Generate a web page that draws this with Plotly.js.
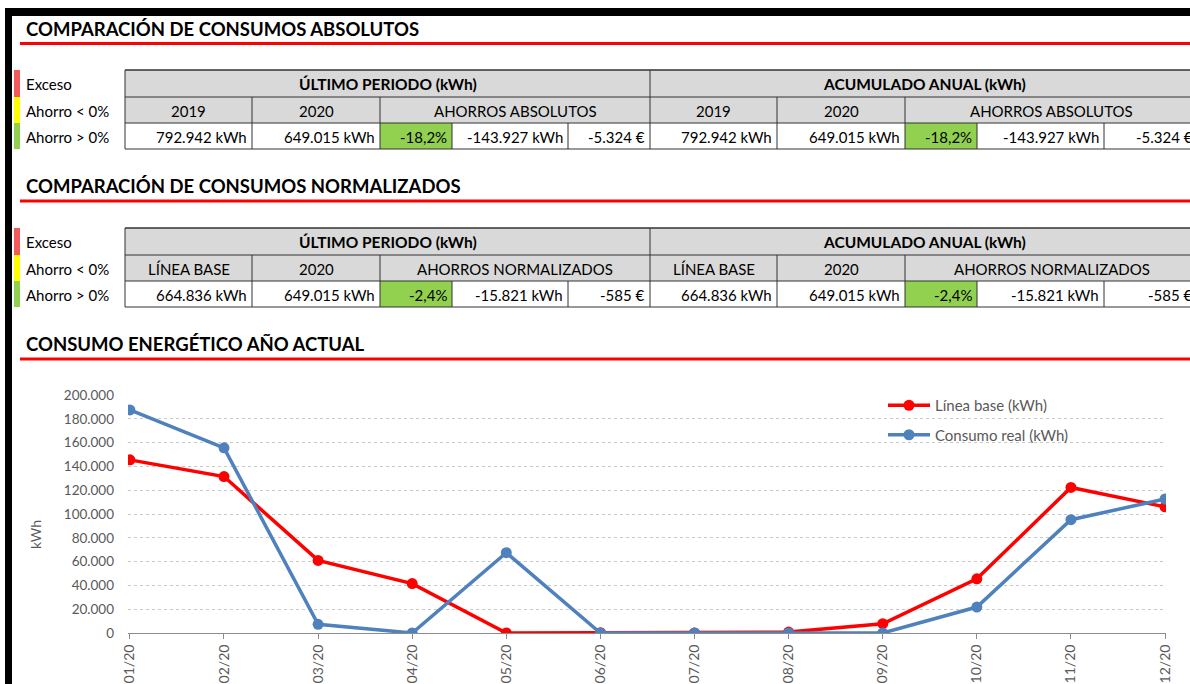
<!DOCTYPE html>
<html><head><meta charset="utf-8">
<script src="https://cdn.plot.ly/plotly-3.0.1.min.js"></script>
<style>html,body{margin:0;padding:0;background:#fff;overflow:hidden}#c{width:1190px;height:684px}</style>
</head><body><div id="c"></div>
<script>
// ---- data ----
const months = ['01/20','02/20','03/20','04/20','05/20','06/20','07/20','08/20','09/20','10/20','11/20','12/20'];
const lineaBase = [145500, 131500, 61000, 41500, 0, 300, 0, 800, 7800, 45500, 122300, 106000];
const consumoReal = [187500, 155600, 7300, 0, 67500, 0, 0, 0, 0, 21800, 95200, 112600];
const seriesNames = ['Línea base (kWh)', 'Consumo real (kWh)'];
const sectionTitles = ['COMPARACIÓN DE CONSUMOS ABSOLUTOS', 'COMPARACIÓN DE CONSUMOS NORMALIZADOS', 'CONSUMO ENERGÉTICO AÑO ACTUAL'];
const legendLabels = ['Exceso', 'Ahorro < 0%', 'Ahorro > 0%'];
const groupHeaders = ['ÚLTIMO PERIODO (kWh)', 'ACUMULADO ANUAL (kWh)'];
const absSubHeader = ['2019', '2020', 'AHORROS ABSOLUTOS'];
const absValues = ['792.942 kWh', '649.015 kWh', '-18,2%', '-143.927 kWh', '-5.324 €'];
const normSubHeader = ['LÍNEA BASE', '2020', 'AHORROS NORMALIZADOS'];
const normValues = ['664.836 kWh', '649.015 kWh', '-2,4%', '-15.821 kWh', '-585 €'];
const yAxisTitle = 'kWh';

// ---- layout helpers ----
const W = 1190, H = 684;
const X = x => x / W, Y = y => 1 - y / H;
const FONT = 'Lato, "Open Sans", sans-serif';
const shapes = [], annotations = [];
function rect(x0, y0, x1, y1, fill, lineColor, lw) {
  shapes.push({type:'rect', xref:'paper', yref:'paper', x0:X(x0), x1:X(x1), y0:Y(y1), y1:Y(y0),
    fillcolor: fill, line:{color: lineColor || fill, width: lineColor ? (lw||1) : 0}, layer:'below'});
}
function line(x0, y0, x1, y1, color, w) {
  shapes.push({type:'line', xref:'paper', yref:'paper', x0:X(x0), x1:X(x1), y0:Y(y0), y1:Y(y1),
    line:{color: color, width: w||1}, layer:'above'});
}
function text(t, x, y, anchor, size, bold, color) {
  annotations.push({xref:'paper', yref:'paper', x:X(x), y:Y(y), xanchor:anchor, yanchor:'middle',
    text: bold ? '<b>'+t+'</b>' : t, showarrow:false,
    font:{family:FONT, size:size, color: color||'#000'}});
}

// frame
rect(5, 8, 1190, 16, '#000');
rect(5, 8, 12, 684, '#000');

// section titles with red rules
const titleY = [29, 186, 344], ruleY = [43.5, 201, 359];
sectionTitles.forEach((t, i) => {
  text(t, 24, titleY[i], 'left', 18.5, true, '#000');
  rect(20, ruleY[i]-1.5, 1190, ruleY[i]+1.5, '#ff0000');
});

// tables
const halves = [[125,252,380,452,568,650],[650,777,905,977,1104,1198]];
const stripColors = ['#f25a5c', '#ffff00', '#92d050'];
function table(T, sub, vals) {
  const r = [T, T+27, T+53, T+79];
  legendLabels.forEach((l, i) => {
    rect(14, r[i], 20, r[i+1], stripColors[i]);
    text(l, 24, (r[i]+r[i+1])/2 + 1, 'left', 15, false, '#000');
  });
  rect(125, r[0], 1198, r[2], '#d9d9d9');
  rect(125, r[2], 1198, r[3], '#ffffff');
  halves.forEach((c, h) => {
    rect(c[2], r[2], c[3], r[3], '#92d050');
    text(groupHeaders[h], (c[0]+c[5])/2, (r[0]+r[1])/2 + 1, 'center', 15.5, true, '#000');
    text(sub[0], (c[0]+c[1])/2, (r[1]+r[2])/2 + 1, 'center', 15, false, '#000');
    text(sub[1], (c[1]+c[2])/2, (r[1]+r[2])/2 + 1, 'center', 15, false, '#000');
    text(sub[2], (c[2]+c[5])/2, (r[1]+r[2])/2 + 1, 'center', 15, false, '#000');
    vals.forEach((v, k) => text(v, c[k+1]-3, (r[2]+r[3])/2 + 1, 'right', 15, false, '#000'));
    [c[1], c[2]].forEach(x => line(x, r[1], x, r[3], '#333', 1));
    [c[3], c[4]].forEach(x => line(x, r[2], x, r[3], '#333', 1));
  });
  line(125, r[0], 1198, r[0], '#333', 1.5);
  line(125, r[1], 1198, r[1], '#333', 1);
  line(125, r[2], 1198, r[2], '#333', 1);
  line(125, r[3], 1198, r[3], '#333', 1);
  line(125, r[0], 125, r[3], '#333', 1);
  line(650, r[0], 650, r[3], '#333', 1);
}
table(70, absSubHeader, absValues);
table(228, normSubHeader, normValues);

// y-axis title
annotations.push({xref:'paper', yref:'paper', x:X(35), y:Y(535), xanchor:'center', yanchor:'middle',
  text: yAxisTitle, textangle:-90, showarrow:false, font:{family:FONT, size:14, color:'#595959'}});

const traces = [
  {x: months, y: lineaBase, name: seriesNames[0], type:'scatter', mode:'lines+markers', legendgroup:'a',
   line:{color:'#ff0000', width:3.5}, marker:{color:'#ff0000', size:11}},
  {x: months, y: consumoReal, name: seriesNames[1], type:'scatter', mode:'lines+markers', legendgroup:'b',
   line:{color:'#4f81bd', width:3.5}, marker:{color:'#4f81bd', size:11}}
];

const layout = {
  width: W, height: H, margin:{l:0, r:0, t:0, b:0},
  paper_bgcolor:'#fff', plot_bgcolor:'rgba(0,0,0,0)',
  separators: ',.',
  font:{family:FONT, color:'#595959'},
  showlegend: true,
  legend:{x:X(883), y:Y(389), xanchor:'left', yanchor:'top', bgcolor:'rgba(0,0,0,0)', itemwidth:42,
    font:{family:FONT, size:15, color:'#595959'}, traceorder:'grouped', tracegroupgap:7},
  xaxis:{type:'category', domain:[X(128), X(1166)], range:[-0.02, 11.01],
    showgrid:false, showline:true, linecolor:'#8c8c8c', linewidth:1,
    ticks:'outside', ticklen:5, tickcolor:'#8c8c8c', tickangle:-90,
    tickfont:{family:FONT, size:14, color:'#595959'}, zeroline:false, fixedrange:true},
  yaxis:{domain:[Y(633), Y(395)], range:[0, 200000], dtick:20000, tickformat:',d',
    showgrid:true, gridcolor:'#c8c8c8', griddash:'dot', gridwidth:1,
    zeroline:false, showline:false, ticks:'', ticklabelstandoff:13,
    tickfont:{family:FONT, size:13.5, color:'#595959'}, fixedrange:true},
  shapes: shapes,
  annotations: annotations
};
Plotly.newPlot('c', traces, layout, {displayModeBar:false, staticPlot:true});
</script></body></html>
